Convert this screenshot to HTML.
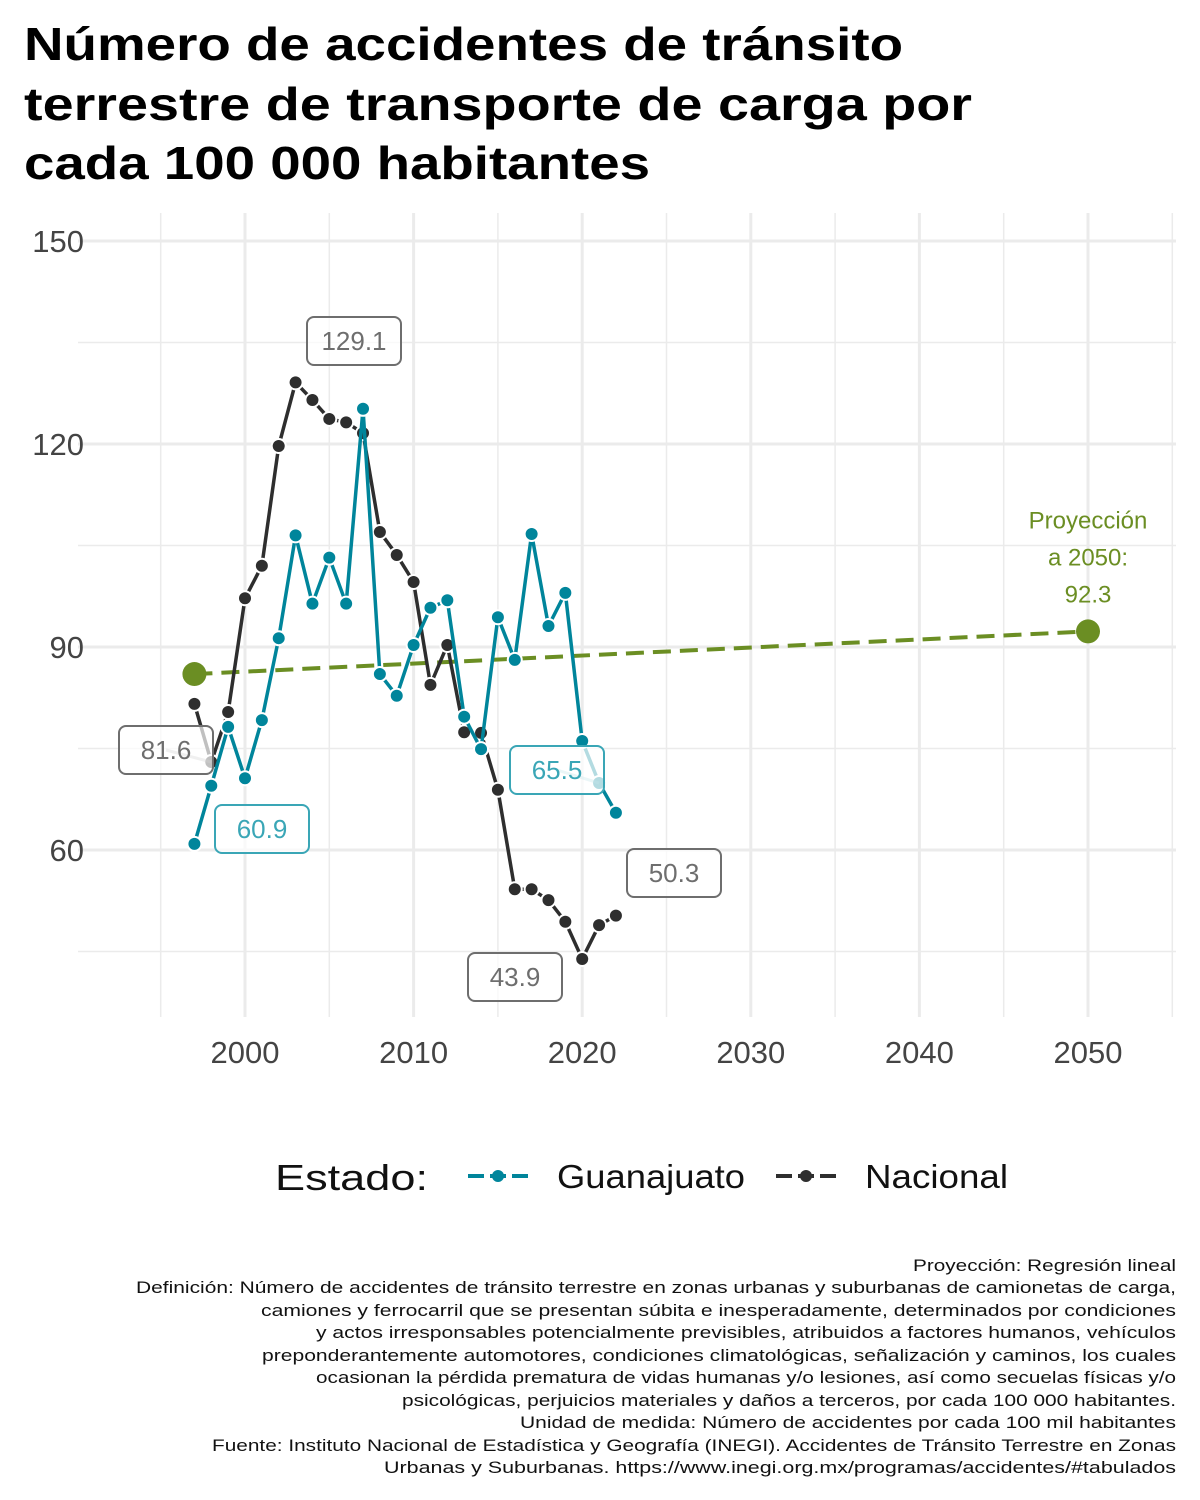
<!DOCTYPE html>
<html><head><meta charset="utf-8">
<style>
html,body{margin:0;padding:0;background:#fff;}
svg{display:block;font-family:"Liberation Sans","DejaVu Sans",sans-serif;}
</style></head>
<body>
<svg id="chart" width="1200" height="1500" viewBox="0 0 1200 1500">
<g font-weight="bold" font-size="46" fill="#000">
<text x="24" y="60" textLength="879" lengthAdjust="spacingAndGlyphs">Número de accidentes de tránsito</text>
<text x="24" y="120" textLength="948" lengthAdjust="spacingAndGlyphs">terrestre de transporte de carga por</text>
<text x="24" y="179" textLength="626" lengthAdjust="spacingAndGlyphs">cada 100 000 habitantes</text>
</g>
<g id="grid"></g>
<g id="axes"></g>
<g id="series"></g>
<g id="labels"></g>
<g font-size="36" fill="#111">
<text x="275" y="1190" textLength="153" lengthAdjust="spacingAndGlyphs">Estado:</text>
<g>
<line x1="468" y1="1176" x2="528" y2="1176" stroke="#00859b" stroke-width="4" stroke-dasharray="16,6"/>
<circle cx="498" cy="1176" r="6" fill="#00859b"/>
<text x="557" y="1188" font-size="33" textLength="188" lengthAdjust="spacingAndGlyphs">Guanajuato</text></g>
<g>
<line x1="776" y1="1176" x2="836" y2="1176" stroke="#2e2e2e" stroke-width="4" stroke-dasharray="16,6"/>
<circle cx="806" cy="1176" r="6" fill="#2e2e2e"/>
<text x="865" y="1188" font-size="33" textLength="143" lengthAdjust="spacingAndGlyphs">Nacional</text></g>
</g>
<g font-size="17" fill="#111" text-anchor="end" lengthAdjust="spacingAndGlyphs">
<text x="1176" y="1271" textLength="263" lengthAdjust="spacingAndGlyphs">Proyección: Regresión lineal</text>
<text x="1176" y="1293" textLength="1040" lengthAdjust="spacingAndGlyphs">Definición: Número de accidentes de tránsito terrestre en zonas urbanas y suburbanas de camionetas de carga,</text>
<text x="1176" y="1316" textLength="915" lengthAdjust="spacingAndGlyphs">camiones y ferrocarril que se presentan súbita e inesperadamente, determinados por condiciones</text>
<text x="1176" y="1338" textLength="860" lengthAdjust="spacingAndGlyphs">y actos irresponsables potencialmente previsibles, atribuidos a factores humanos, vehículos</text>
<text x="1176" y="1361" textLength="914" lengthAdjust="spacingAndGlyphs">preponderantemente automotores, condiciones climatológicas, señalización y caminos, los cuales</text>
<text x="1176" y="1383" textLength="860" lengthAdjust="spacingAndGlyphs">ocasionan la pérdida prematura de vidas humanas y/o lesiones, así como secuelas físicas y/o</text>
<text x="1176" y="1406" textLength="774" lengthAdjust="spacingAndGlyphs">psicológicas, perjuicios materiales y daños a terceros, por cada 100 000 habitantes.</text>
<text x="1176" y="1428" textLength="656" lengthAdjust="spacingAndGlyphs">Unidad de medida: Número de accidentes por cada 100 mil habitantes</text>
<text x="1176" y="1451" textLength="964" lengthAdjust="spacingAndGlyphs">Fuente: Instituto Nacional de Estadística y Geografía (INEGI). Accidentes de Tránsito Terrestre en Zonas</text>
<text x="1176" y="1473" textLength="792" lengthAdjust="spacingAndGlyphs">Urbanas y Suburbanas. https://www.inegi.org.mx/programas/accidentes/#tabulados</text>
</g>
</svg>
<script>
const years = [1997,1998,1999,2000,2001,2002,2003,2004,2005,2006,2007,2008,2009,2010,2011,2012,2013,2014,2015,2016,2017,2018,2019,2020,2021,2022];
const nacional = [81.6,73.0,80.4,97.2,102.0,119.7,129.1,126.5,123.7,123.2,121.6,107.0,103.6,99.6,84.4,90.3,77.4,77.3,68.9,54.2,54.2,52.6,49.4,43.9,48.9,50.3];
const guanajuato = [60.9,69.5,78.2,70.6,79.2,91.3,106.5,96.4,103.2,96.4,125.2,86.0,82.8,90.3,95.8,96.9,79.7,74.9,94.4,88.1,106.7,93.1,98.0,76.1,69.9,65.5];
const projYears = [1997,2050];
const projValues = [86.0,92.3];
const yTicks = [60,90,120,150];
const yMinor = [45,75,105,135];
const xTicks = [2000,2010,2020,2030,2040,2050];
const xMinor = [1995,2005,2015,2025,2035,2045,2055];

const NS="http://www.w3.org/2000/svg";
const X = yr => 245 + (yr-2000)*16.86;
const Y = v => 850 - (v-60)*6.767;
const PL=78, PR=1176, PT=213, PB=1017;
function mk(tag, attrs, parent){const e=document.createElementNS(NS,tag);for(const k in attrs)e.setAttribute(k,attrs[k]);parent.appendChild(e);return e;}
const grid=document.getElementById('grid'), axes=document.getElementById('axes'), series=document.getElementById('series'), labels=document.getElementById('labels');

yMinor.forEach(v=>{const l=mk('line',{x1:PL,x2:PR,y1:Y(v),y2:Y(v),stroke:'#ebebeb','stroke-width':1.5},grid);

});
xMinor.forEach(v=>{const x=X(v); if(x<PL||x>PR)return; const l=mk('line',{x1:x,x2:x,y1:PT,y2:PB,stroke:'#ebebeb','stroke-width':1.5},grid);

});
yTicks.forEach(v=>{const l=mk('line',{x1:PL,x2:PR,y1:Y(v),y2:Y(v),stroke:'#ebebeb','stroke-width':3},grid);


const t=mk('text',{x:84,y:Y(v)+11,'text-anchor':'end','font-size':31,fill:'#444'},axes);t.textContent=v;

});
xTicks.forEach(v=>{const l=mk('line',{x1:X(v),x2:X(v),y1:PT,y2:PB,stroke:'#ebebeb','stroke-width':3},grid);


const t=mk('text',{x:X(v),y:1063,'text-anchor':'middle','font-size':31,fill:'#444'},axes);t.textContent=v;

});

const pl=mk('line',{x1:X(projYears[0]),y1:Y(projValues[0]),x2:X(projYears[1]),y2:Y(projValues[1]),stroke:'#6b8e23','stroke-width':4,'stroke-dasharray':'18,9'},series);


projYears.forEach((yr,i)=>{const c=mk('circle',{cx:X(yr),cy:Y(projValues[i]),r:12,fill:'#6b8e23'},series);

});
['Proyección','a 2050:',projValues[1].toFixed(1)].forEach((s,i)=>{const t=mk('text',{x:X(2050),y:Y(projValues[1])-103+i*37,'text-anchor':'middle','font-size':24,fill:'#6b8e23'},labels);t.textContent=s;

});

function drawSeries(vals,color,name){
  const d=vals.map((v,i)=>(i?'L':'M')+X(years[i])+','+Y(v)).join(' ');
  const p=mk('path',{d:d,fill:'none',stroke:color,'stroke-width':3.5,'stroke-linejoin':'round'},series);
  
  
  vals.forEach((v,i)=>{const c=mk('circle',{cx:X(years[i]),cy:Y(v),r:7,fill:color,stroke:'#fff','stroke-width':2},series);
    
    });
}
drawSeries(nacional,'#2e2e2e','nacional');
drawSeries(guanajuato,'#00859b','guanajuato');

function label(val,cx,cy,color,tx,ty){
  if(tx!==null) mk('line',{x1:cx,y1:cy,x2:tx,y2:ty,stroke:color,'stroke-width':3,opacity:0.35},labels);
  const g=mk('g',{},labels);
  
  
  mk('rect',{x:cx-47,y:cy-24,width:94,height:48,rx:7,fill:'#fff','fill-opacity':0.7,stroke:color,'stroke-width':2},g);
  const t=mk('text',{x:cx,y:cy+9,'text-anchor':'middle','font-size':26,fill:color},g);t.textContent=val.toFixed(1);
}
label(nacional[6],354,341,'#6e6e6e',null,null);
label(nacional[0],166,750,'#6e6e6e',X(1998),Y(nacional[1]));
label(guanajuato[0],262,829,'#3aa6b6',null,null);
label(guanajuato[25],557,770,'#3aa6b6',X(2021),Y(guanajuato[24]));
label(nacional[25],674,873,'#6e6e6e',null,null);
label(nacional[23],515,977,'#6e6e6e',null,null);
</script>
</body></html>
